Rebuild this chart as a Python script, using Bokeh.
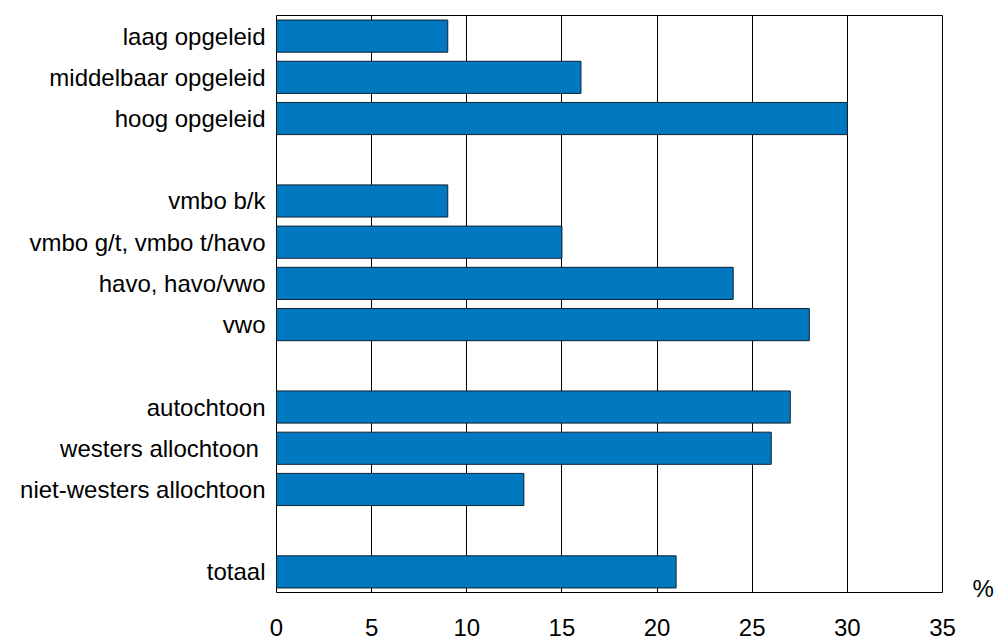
from bokeh.plotting import figure
from bokeh.models import Range1d, ColumnDataSource, FixedTicker, LinearAxis
from bokeh.embed import file_html
from bokeh.resources import INLINE

categories = ["laag opgeleid", "middelbaar opgeleid", "hoog opgeleid",
              "vmbo b/k", "vmbo g/t, vmbo t/havo", "havo, havo/vwo", "vwo",
              "autochtoon", "westers allochtoon ", "niet-westers allochtoon",
              "totaal"]
values = [9, 16, 30, 9, 15, 24, 28, 27, 26, 13, 21]
group_ids = [0, 0, 0, 1, 1, 1, 1, 2, 2, 2, 3]
x_ticks = [0, 5, 10, 15, 20, 25, 30, 35]
unit_label = "%"

# row slot of each category counted from the top, with one empty slot between groups
slots = []
slot = 0
prev = group_ids[0]
for g in group_ids:
    if g != prev:
        slot += 1
        prev = g
    slots.append(slot)
    slot += 1
n_rows = slot
ypos = [n_rows - 0.5 - s for s in slots]

FONT = "Liberation Sans"

p = figure(width=1000, height=641, output_backend="svg", toolbar_location=None,
           y_range=Range1d(0, n_rows), x_range=Range1d(0, 35))
p.min_border_left = 276
p.min_border_right = 58
p.min_border_top = 15
p.min_border_bottom = 49

src = ColumnDataSource(dict(y=ypos, val=values))
p.hbar(y="y", right="val", left=0, height=0.78, source=src,
       fill_color="#0079C1", line_color="#102030", line_width=1)

p.outline_line_color = "black"
p.outline_line_width = 1
p.outline_line_alpha = 1

p.xgrid.ticker = FixedTicker(ticks=x_ticks)
p.xgrid.grid_line_color = "black"
p.xgrid.grid_line_width = 1
p.ygrid.grid_line_color = None


def style_axis(ax, standoff):
    ax.axis_line_color = None
    ax.major_tick_line_color = None
    ax.minor_tick_line_color = None
    ax.major_tick_out = 0
    ax.major_tick_in = 0
    ax.major_label_standoff = standoff
    ax.major_label_text_font = FONT
    ax.major_label_text_font_size = "24px"
    ax.major_label_text_color = "black"


xa = p.xaxis[0]
xa.ticker = FixedTicker(ticks=x_ticks)
style_axis(xa, 26)

ya = p.yaxis[0]
ya.ticker = FixedTicker(ticks=ypos)
ya.major_label_overrides = {y: c for y, c in zip(ypos, categories)}
style_axis(ya, 11)

# unit label "%" at the right, just above the bottom of the plot
ua = LinearAxis(ticker=FixedTicker(ticks=[0.1]),
                major_label_overrides={0.1: unit_label})
style_axis(ua, 30)
p.add_layout(ua, "right")

p.background_fill_color = "white"
p.border_fill_color = "white"

open("out.html", "w").write(file_html(p, INLINE))
